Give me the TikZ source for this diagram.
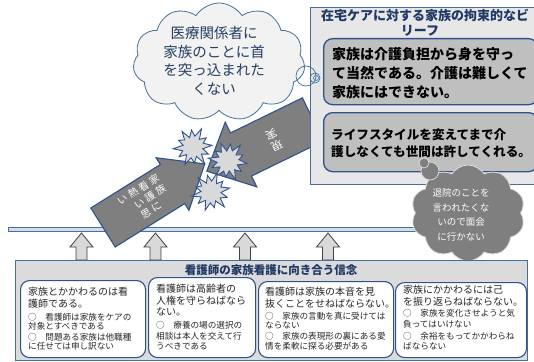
\documentclass[tikz,border=0pt]{standalone}
\usepackage{fontspec}
\setmainfont{Noto Sans CJK JP}
\usetikzlibrary{shapes.symbols}
\definecolor{bord}{HTML}{41719C}
\definecolor{dblue}{HTML}{2F528F}
\definecolor{navy}{HTML}{1F3864}
\definecolor{cloudtxt}{HTML}{243F60}
\definecolor{panelg}{HTML}{E7E7E7}
\definecolor{boxg}{HTML}{BFBFBF}
\definecolor{arrg}{HTML}{7F7F7F}
\definecolor{burstg}{HTML}{D9D9D9}
\definecolor{cloudg}{HTML}{F2F2F2}
\definecolor{botg}{HTML}{DBDBDB}
\definecolor{barfill}{HTML}{D6DCE5}
\tikzset{
  panel/.style={draw=bord, line width=1pt, anchor=north west, inner sep=0},
  rbox/.style={draw=dblue, fill=boxg, line width=1.3pt, rounded corners=9pt, anchor=north west, inner sep=0},
  wbox/.style={draw=dblue, fill=white, line width=1.1pt, rounded corners=9pt, anchor=north west, inner sep=0},
  bigarrow/.style={draw=dblue, fill=arrg, line width=1.1pt, line join=miter},
  arrtext/.style={text=white, inner sep=0, font=\fontsize{10}{12}\selectfont},
  burstp/.style={draw=dblue, fill=burstg, line width=0.9pt, line join=miter},
  big/.style={anchor=west, inner sep=0, text=black!85, font=\fontsize{10}{12}\selectfont},
  small/.style={anchor=west, inner sep=0, text=black!85, font=\fontsize{8.6}{10}\selectfont},
  bline/.style={anchor=west, inner sep=0, text=black, font=\bfseries\fontsize{14}{16}\selectfont},
  uparr/.pic={\draw[fill=burstg, draw=black!75, line width=0.8pt] (0,0) -- (11.5,14) -- (5.5,14) -- (5.5,27) -- (-5.5,27) -- (-5.5,14) -- (-11.5,14) -- cycle;},
  burstpic/.pic={\draw[burstp] (0:19) \foreach \a/\r in {15/10,30/17,45/11,60/20,75/10,90/16,105/11,120/19,135/10,150/17,165/11,180/20,195/10,210/16,225/11,240/19,255/10,270/17,285/11,300/20,315/10,330/16,345/11} { -- (\a:\r) } -- cycle;}
}
\begin{document}
\begin{tikzpicture}[x=1pt,y=-1pt]
\useasboundingbox (0,0) rectangle (534,361);
% horizontal bar
\node[draw=bord, fill=barfill, line width=0.9pt, anchor=north west, minimum width=495pt, minimum height=4pt, inner sep=0] (bar) at (8,227) {};
% arrow 2 (reality)
\begin{scope}[shift={(241,154.5)}, rotate=206]
\draw[bigarrow] (-80,-24) -- (0,-24) -- (0,-36) -- (38,0) -- (0,36) -- (0,24) -- (-80,24) -- cycle;
\node[arrtext, transform shape, font=\fontsize{11}{13}\selectfont] (a2t) at (-36,0) {\begin{tabular}{@{}c@{}}現\\実\end{tabular}};
\end{scope}
% right panel
\node[panel, fill=panelg, minimum width=235pt, minimum height=177pt] (rp) at (310,7) {};
\node[anchor=center, inner sep=0, text=navy, font=\bfseries\fontsize{13}{15}\selectfont] (rpt1) at (425,15) {在宅ケアに対する家族の拘束的なビ};
\node[anchor=center, inner sep=0, text=navy, font=\bfseries\fontsize{13}{15}\selectfont] (rpt2) at (420,31) {リーフ};
\node[rbox, minimum width=214pt, minimum height=66pt] (rb1) at (323,38) {};
\node[bline] (rb1a) at (332,54) {家族は介護負担から身を守っ};
\node[bline] (rb1b) at (332,73) {て当然である。介護は難しくて};
\node[bline] (rb1c) at (332,92) {家族にはできない。};
\node[rbox, minimum width=214pt, minimum height=59pt] (rb2) at (323,112) {};
\node[bline, font=\bfseries\fontsize{12.6}{15}\selectfont] (rb2a) at (331,135) {ライフスタイルを変えてまで介};
\node[bline, font=\bfseries\fontsize{12.6}{15}\selectfont] (rb2b) at (331,152) {護しなくても世間は許してくれる。};
% cloud 1
\node[cloud, cloud puffs=11, cloud puff arc=115, aspect=1.45, draw=bord, fill=cloudg, line width=0.8pt, minimum width=172pt, minimum height=118pt, inner sep=0] (c1) at (219,62) {};
\node[align=center, inner sep=0, text=cloudtxt, font=\fontsize{14.5}{18.5}\selectfont] (c1t) at (214,61) {医療関係者に\\家族のことに首\\を突っ込まれた\\くない};
\node[circle, draw=bord, line width=0.7pt, minimum size=20pt, inner sep=0] (c1b1) at (306,76) {};
\node[circle, draw=bord, line width=0.7pt, minimum size=10pt, inner sep=0] (c1b2) at (315,78) {};
\node[circle, draw=bord, line width=0.6pt, minimum size=5pt, inner sep=0] (c1b3) at (316,78) {};
% arrow 1 (passion)
\begin{scope}[shift={(103,227.5)}, rotate=32]
\draw[bigarrow] (0,-23) -- (82,-23) -- (82,-31) -- (120,0) -- (82,31) -- (82,23) -- (0,23) -- cycle;
\node[arrtext, transform shape] (a1t) at (50,0) {\renewcommand\arraystretch{1.0}\begin{tabular}{@{}c@{\hspace{2.5pt}}c@{\hspace{2.5pt}}c@{\hspace{2.5pt}}c@{}}い&熱&看&家\\ &い&護&族\\ &思&に& \end{tabular}};
\end{scope}
% starbursts
\pic[rotate=5] (s1) at (193,147) {burstpic};
\pic[rotate=-8] (s2) at (228,161) {burstpic};
\pic[rotate=12] (s3) at (211,192) {burstpic};
% cloud 2
\node[cloud, cloud puffs=10, cloud puff arc=115, aspect=1.2, draw=white!75!arrg, fill=arrg, line width=0.8pt, minimum width=114pt, minimum height=96pt, inner sep=0] (c2) at (468,213) {};
\node[align=center, inner sep=0, text=white, font=\fontsize{9.5}{14.7}\selectfont] (c2t) at (461,215) {退院のことを\\言われたくな\\いので面会\\に行かない};
\node[circle, fill=arrg, draw=white!75!arrg, line width=0.7pt, minimum size=18pt, inner sep=0] (c2b1) at (430,171) {};
\node[circle, fill=arrg, draw=white!75!arrg, line width=0.7pt, minimum size=10pt, inner sep=0] (c2b2) at (424,163) {};
% up arrows
\pic (ua1) at (81.5,233) {uparr};
\pic (ua2) at (155.5,233) {uparr};
\pic (ua3) at (245,233) {uparr};
\pic (ua4) at (328,233) {uparr};
% bottom panel
\node[panel, fill=botg, minimum width=512pt, minimum height=100pt] (bp) at (15,260) {};
\node[inner sep=0, text=navy, font=\bfseries\fontsize{11.5}{13}\selectfont] (bpt) at (271,270) {看護師の家族看護に向き合う信念};
\node[wbox, minimum width=125pt, minimum height=77pt] (w1) at (20,280) {};
\node[wbox, minimum width=107pt, minimum height=80pt] (w2) at (148,277) {};
\node[wbox, minimum width=135pt, minimum height=76pt] (w3) at (258,281) {};
\node[wbox, minimum width=131pt, minimum height=75pt] (w4) at (395,282) {};
% box 1 text
\node[big] (w1a) at (28,291.7) {家族とかかわるのは看};
\node[big] (w1b) at (28,304) {護師である。};
\node[small] (w1c) at (28,317.3) {○　看護師は家族をケアの};
\node[small] (w1d) at (28,326.7) {対象とすべきである};
\node[small] (w1e) at (28,337.3) {○　問題ある家族は他職種};
\node[small] (w1f) at (28,346.7) {に任せては申し訳ない};
% box 2 text
\node[big] (w2a) at (156,288.3) {看護師は高齢者の};
\node[big] (w2b) at (156,300.7) {人権を守らねばなら};
\node[big] (w2c) at (156,311.7) {ない。};
\node[small] (w2d) at (156,325) {○　療養の場の選択の};
\node[small] (w2e) at (156,336) {相談は本人を交えて行};
\node[small] (w2f) at (156,346) {うべきである};
% box 3 text
\node[big] (w3a) at (265,291.7) {看護師は家族の本音を見};
\node[big] (w3b) at (265,303.3) {抜くことをせねばならない。};
\node[small] (w3c) at (265,316) {○　家族の言動を真に受けては};
\node[small] (w3d) at (265,325.7) {ならない};
\node[small] (w3e) at (265,336.7) {○　家族の表現形の裏にある愛};
\node[small] (w3f) at (265,346.7) {情を柔軟に探る必要がある};
% box 4 text
\node[big] (w4a) at (403,290) {家族にかかわるには己};
\node[big] (w4b) at (403,301.7) {を振り返らねばならない。};
\node[small] (w4c) at (403,313.3) {○　家族を変化させようと気};
\node[small] (w4d) at (403,324.3) {負ってはいけない};
\node[small] (w4e) at (403,336) {○　余裕をもってかかわらね};
\node[small] (w4f) at (403,346) {ばならない};
\end{tikzpicture}
\end{document}
